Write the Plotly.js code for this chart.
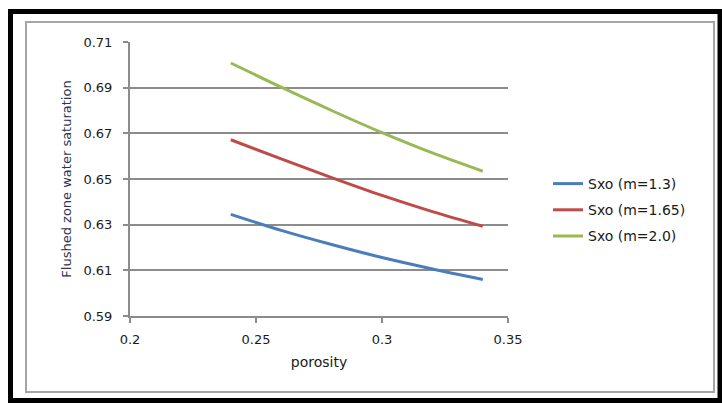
<!DOCTYPE html>
<html>
<head>
<meta charset="utf-8">
<script src="https://cdn.plot.ly/plotly-3.0.1.min.js"></script>
<style>
  html, body { margin: 0; padding: 0; background: #ffffff; }
  #chart { width: 722px; height: 403px; }
</style>
</head>
<body>
<div id="chart"></div>
<script>
// Data
const porosity = [0.24, 0.26, 0.28, 0.30, 0.32, 0.34];
const sxoM13  = [0.6345, 0.6275, 0.6213, 0.6156, 0.6106, 0.6060];
const sxoM165 = [0.6672, 0.6588, 0.6506, 0.6428, 0.6357, 0.6293];
const sxoM20  = [0.7008, 0.6902, 0.6800, 0.6703, 0.6614, 0.6534];
const seriesNames = ['Sxo (m=1.3)', 'Sxo (m=1.65)', 'Sxo (m=2.0)'];
const seriesColors = ['#4a7ebb', '#be4b48', '#98b954'];
const xTickVals = [0.2, 0.25, 0.3, 0.35];
const xTickText = ['0.2', '0.25', '0.3', '0.35'];
const xTitle = 'porosity';
const yTitle = 'Flushed zone water saturation';

const W = 722, H = 403;
const L = 130, R = 214, T = 42, B = 87;
const pw = W - L - R, ph = H - T - B;
const px = v => (v - L) / pw;
const py = v => (H - B - v) / ph;

const font = '"DejaVu Sans", "Liberation Sans", sans-serif';
const allY = [sxoM13, sxoM165, sxoM20];

const traces = allY.map((ys, i) => ({
  x: porosity,
  y: ys,
  type: 'scatter',
  mode: 'lines',
  name: seriesNames[i],
  legendgroup: 'g' + i,
  line: { color: seriesColors[i], width: 3, shape: 'spline', smoothing: 1 }
}));

const layout = {
  width: W, height: H,
  margin: { l: L, r: R, t: T, b: B, pad: 0 },
  paper_bgcolor: '#ffffff',
  plot_bgcolor: '#ffffff',
  font: { family: font, size: 13, color: '#1a1a1a' },
  showlegend: true,
  legend: {
    x: px(548), xanchor: 'left',
    y: py(210), yanchor: 'middle',
    traceorder: 'grouped',
    tracegroupgap: 5,
    font: { family: font, size: 14, color: '#1a1a1a' },
    bgcolor: 'rgba(0,0,0,0)'
  },
  xaxis: {
    range: [0.2, 0.35],
    tickvals: xTickVals,
    ticktext: xTickText,
    showgrid: false,
    zeroline: false,
    showline: true, linecolor: '#8c8c8c', linewidth: 2,
    ticks: 'outside', ticklen: 5, tickcolor: '#8c8c8c', tickwidth: 2,
    ticklabelstandoff: 5,
    tickfont: { family: font, size: 13, color: '#1a1a1a' },
    title: { text: xTitle, standoff: 12, font: { family: font, size: 14, color: '#1a1a1a' } }
  },
  yaxis: {
    range: [0.59, 0.71],
    tick0: 0.59, dtick: 0.02,
    tickformat: '.2f',
    showgrid: true, gridcolor: '#8c8c8c', gridwidth: 2,
    zeroline: false,
    showline: true, linecolor: '#8c8c8c', linewidth: 2,
    ticks: 'outside', ticklen: 5, tickcolor: '#8c8c8c', tickwidth: 2,
    ticklabelstandoff: 8,
    tickfont: { family: font, size: 13, color: '#1a1a1a' },
    title: { text: yTitle, standoff: 9, font: { family: font, size: 13, color: '#2b3550' } }
  },
  shapes: [
    { type: 'rect', xref: 'paper', yref: 'paper', layer: 'below',
      x0: px(26), x1: px(714), y0: py(392), y1: py(22),
      line: { color: '#a6a6a6', width: 2 }, fillcolor: 'rgba(0,0,0,0)' },
    { type: 'rect', xref: 'paper', yref: 'paper', layer: 'above',
      x0: px(10.5), x1: px(720), y0: py(400.5), y1: py(11.5),
      line: { color: '#000000', width: 5 }, fillcolor: 'rgba(0,0,0,0)' }
  ]
};

Plotly.newPlot('chart', traces, layout, { staticPlot: true, displayModeBar: false });
</script>
</body>
</html>
